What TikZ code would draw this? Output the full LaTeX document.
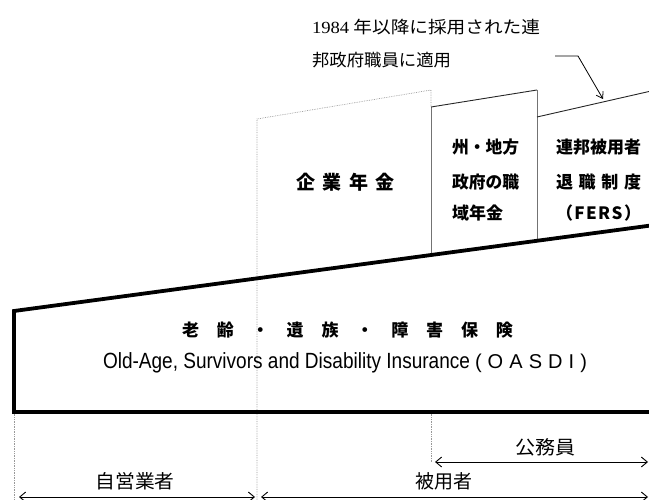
\documentclass[tikz,border=0pt]{standalone}
\usepackage{graphicx}
\usepackage{fontspec}
\setmainfont{Noto Sans CJK JP}
\newfontfamily\latinsans{Liberation Sans}
\newfontfamily\latinserif{Liberation Serif}
\usetikzlibrary{arrows.meta}
\newcommand{\fitw}[3]{\resizebox{#1}{\height}{\fontsize{#2}{#2}\selectfont #3}}
\begin{document}
\begin{tikzpicture}[x=1pt,y=-1pt,
  txt/.style={inner sep=0pt, outer sep=0pt},
  thickbox/.style={line width=3.8pt, line join=miter},
  guide/.style={densely dotted, black!40, line width=0.7pt},
  thinbox/.style={black!55, line width=0.9pt},
  toptop/.style={black!85, line width=0.9pt},
  dimarrow/.style={{Straight Barb[length=6pt,width=10pt]}-{Straight Barb[length=6pt,width=10pt]}, line width=0.9pt},
  notearrow/.style={-{Straight Barb[length=6pt,width=8pt]}, line width=0.8pt}]
\useasboundingbox (0,0) rectangle (649,500);
\clip (0,0) rectangle (649,500);

% guides (dotted)
\coordinate (g1b) at (14,500);  \coordinate (g1t) at (14,412);
\coordinate (kbl) at (257,500); \coordinate (ktl) at (257,119);
\coordinate (ktr) at (431,90);  \coordinate (stl) at (431,107);
\coordinate (g3t) at (431,412); \coordinate (g3b) at (431,462);
\draw[guide] (g1t) -- (g1b);
\draw[guide] (kbl) -- (ktl) -- (ktr) -- (stl);
\draw[guide] (g3t) -- (g3b);

% state/local box
\coordinate (sbl) at (431,256);
\coordinate (str) at (537,90);
\coordinate (sbr) at (537,242);
\draw[thinbox] (sbl) -- (stl);
\draw[toptop] (stl) -- (str);
\draw[thinbox] (str) -- (sbr);

% FERS top
\coordinate (ftl) at (537,117);
\coordinate (ftr) at (660,89);
\draw[toptop] (ftl) -- (ftr);

% OASDI thick box
\coordinate (otr) at (662,224);
\coordinate (otl) at (14,311);
\coordinate (obl) at (14,412);
\coordinate (obr) at (662,412);
\draw[thickbox] (otr) -- (otl) -- (obl) -- (obr);

% note text and arrow
\node[txt, anchor=west] (note1) at (312,27)
  {\resizebox{228pt}{\height}{\fontsize{17}{17}\selectfont{\latinserif 1984} 年以降に採用された連}};
\node[txt, anchor=west] (note2) at (312,60) {\fitw{139pt}{17}{邦政府職員に適用}};
\coordinate (na) at (555,56);
\coordinate (nb) at (578,56);
\coordinate (nc) at (603,99);
\draw[notearrow] (na) -- (nb) -- (nc);

% box texts
\node[txt] (kigyo) at (345.5,182)
  {\fontsize{19}{19}\selectfont\bfseries\makebox[99pt]{企\hfill 業\hfill 年\hfill 金}};
\node[txt, anchor=west] (shu1) at (452,147) {\fitw{67pt}{17}{\bfseries 州・地方}};
\node[txt, anchor=west] (shu2) at (452,182) {\fitw{67pt}{17}{\bfseries 政府の職}};
\node[txt, anchor=west] (shu3) at (452,213) {\fitw{51pt}{17}{\bfseries 域年金}};
\node[txt, anchor=west] (fers1) at (556,147) {\fitw{85pt}{17}{\bfseries 連邦被用者}};
\node[txt, anchor=west] (fers2) at (556,182)
  {\fontsize{17}{17}\selectfont\bfseries\makebox[85pt]{退\hfill 職\hfill 制\hfill 度}};
\node[txt, anchor=west] (fers3) at (556,213)
  {\fontsize{17}{17}\selectfont\bfseries\makebox[85pt]{（\hfill F\hfill E\hfill R\hfill S\hfill ）}};

% OASDI texts
\node[txt] (oasdij) at (347.5,330)
  {\fontsize{17}{17}\selectfont\bfseries\makebox[331pt]{老\hfill 齢\hfill ・\hfill 遺\hfill 族\hfill ・\hfill 障\hfill 害\hfill 保\hfill 険}};
\node[txt, anchor=west] (oasdie) at (103,363)
  {\resizebox{367pt}{\height}{\latinsans\fontsize{22}{22}\selectfont Old-Age, Survivors and Disability Insurance}\hspace{5pt}%
   {\latinsans\fontsize{20}{20}\selectfont\makebox[112pt]{(\hfill O\hfill A\hfill S\hfill D\hfill I\hfill )}}};

% bottom arrows
\coordinate (a1l) at (19,497);  \coordinate (a1r) at (255,497);
\coordinate (a2l) at (261,497); \coordinate (a2r) at (648,497);
\coordinate (a3l) at (435,462); \coordinate (a3r) at (648,462);
\draw[dimarrow] (a1l) -- (a1r);
\draw[dimarrow] (a2l) -- (a2r);
\draw[dimarrow] (a3l) -- (a3r);
\node[txt] (jiei) at (135,481) {\fitw{79pt}{19}{自営業者}};
\node[txt] (hiyo) at (444,481) {\fitw{57pt}{19}{被用者}};
\node[txt] (komu) at (545,447) {\fitw{60pt}{19}{公務員}};
\end{tikzpicture}
\end{document}
